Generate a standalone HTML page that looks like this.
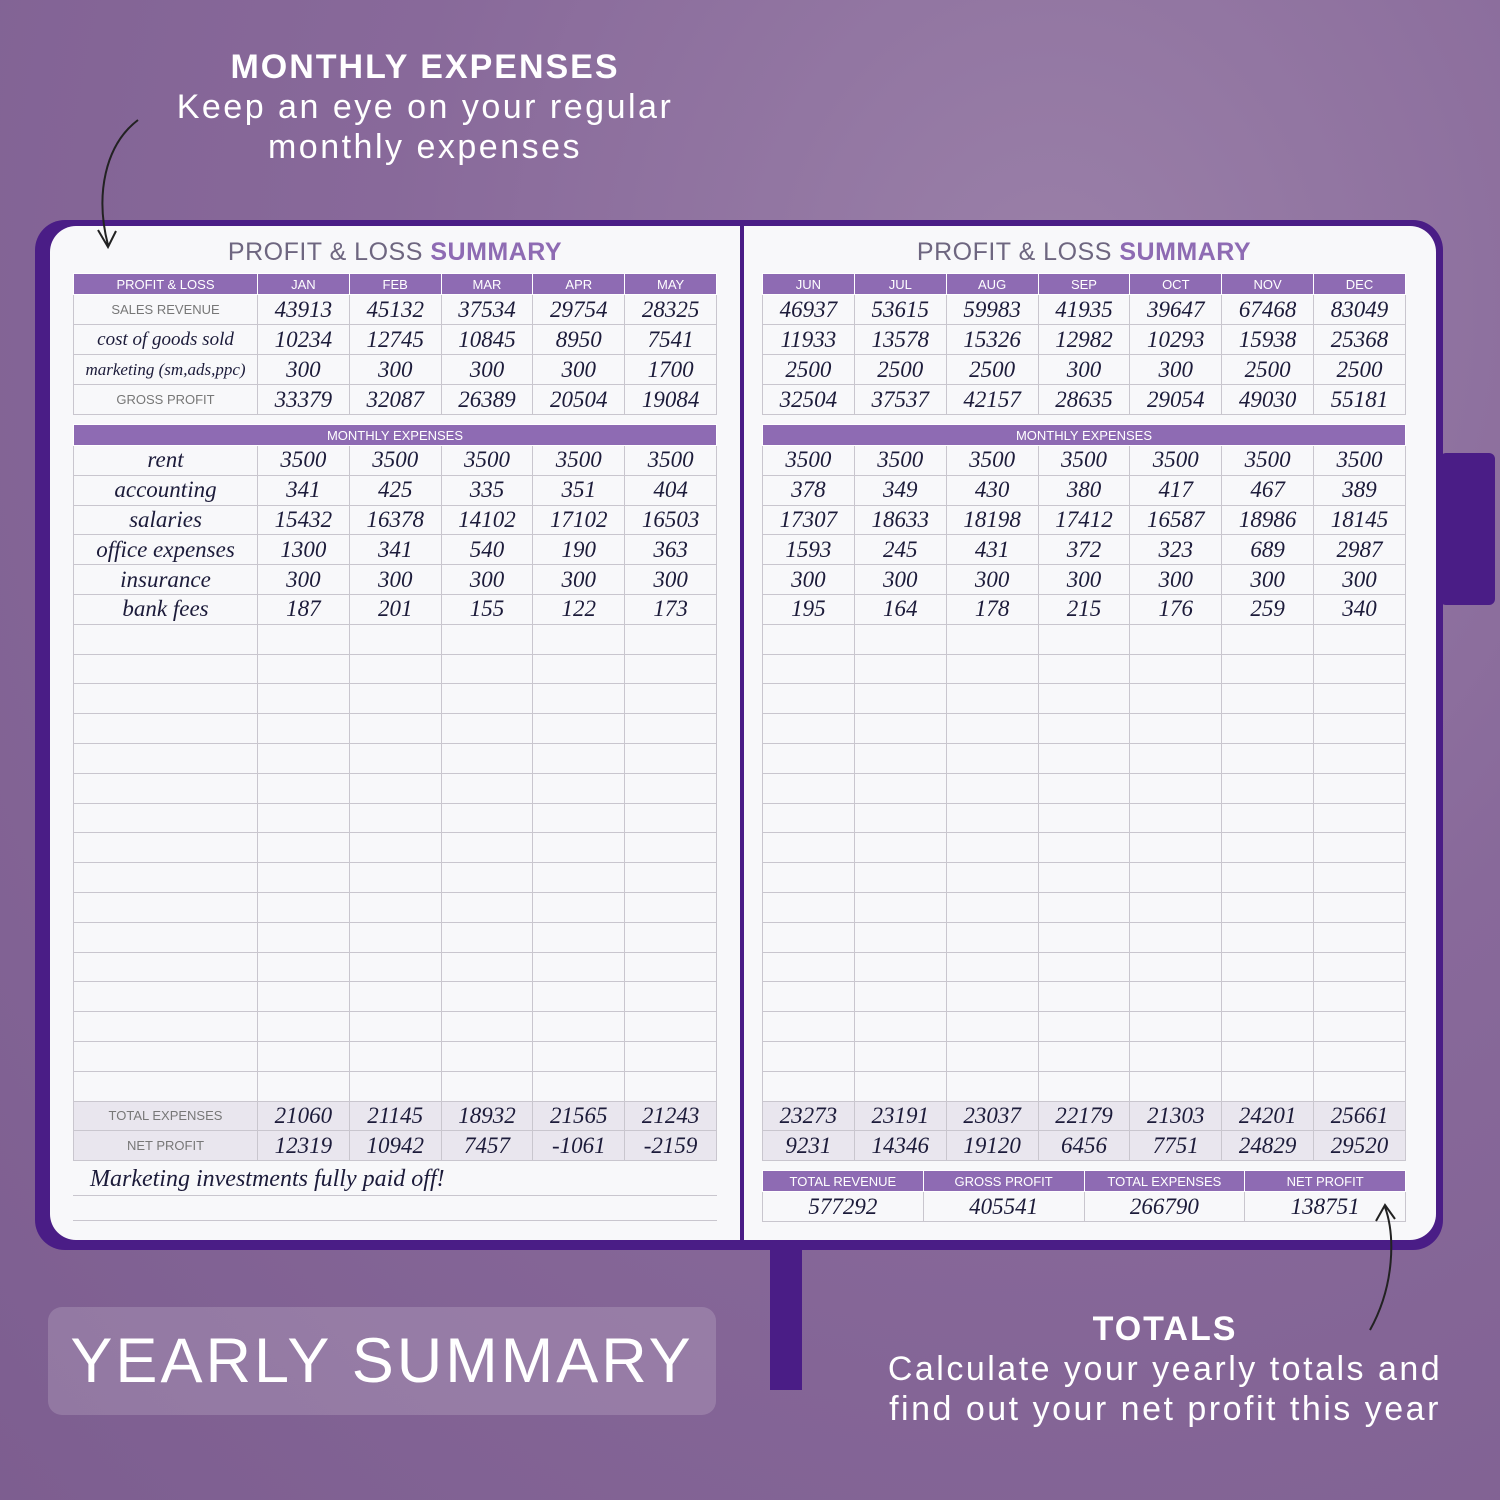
<!DOCTYPE html>
<html><head><meta charset="utf-8"><style>
*{margin:0;padding:0;box-sizing:border-box}
body{width:1500px;height:1500px;overflow:hidden;position:relative;font-family:"Liberation Sans",sans-serif;
background:radial-gradient(ellipse at 70% 20%,#9a80a8 0%,#88699a 45%,#7d5e90 100%)}
.abs{position:absolute}
.cover{left:35px;top:220px;width:1408px;height:1030px;background:#4a1d86;border-radius:30px}
.page{background:#f8f8fa;top:226px;height:1014px}
table{position:absolute;border-collapse:collapse;table-layout:fixed}
td{border:1px solid #c9c6ce;height:30px;text-align:center;font-family:"Liberation Serif",serif;font-style:italic;font-size:23px;color:#1c1b3a;padding:0;overflow:hidden;white-space:nowrap}
.ex td{height:29.8px}
td.h{background:#8e6bb3;color:#fff;font-family:"Liberation Sans",sans-serif;font-style:normal;font-size:13px;height:21px;border-color:#fff}
td.l{font-family:"Liberation Sans",sans-serif;font-style:normal;font-size:13px;color:#777}
tr.s td{background:#e9e6ee}
.title{font-size:25px;color:#6e6680;letter-spacing:.5px}
.title b{color:#8e6bb3}
</style></head><body>
<div class="abs" style="left:0;top:48px;width:850px;text-align:center;color:#fff">
<div style="font-size:34px;font-weight:bold;letter-spacing:2px">MONTHLY EXPENSES</div>
<div style="font-size:34px;letter-spacing:2.5px;line-height:40px">Keep an eye on your regular<br>monthly expenses</div></div>
<div class="abs" style="left:1440px;top:453px;width:55px;height:152px;background:#4a1d86;border-radius:6px"></div>
<div class="abs cover"></div>
<div class="abs" style="left:770px;top:1240px;width:32px;height:150px;background:#4a1d86"></div>
<div class="abs page" style="left:50px;width:690px;border-radius:26px 0 0 26px"></div>
<div class="abs page" style="left:744px;width:692px;border-radius:0 26px 26px 0"></div>
<svg class="abs" style="left:90px;top:115px" width="60" height="140"><path d="M48 5 C15 30 5 80 18 130 M8 115 L18 132 L26 116" stroke="#222" stroke-width="2" fill="none"/></svg>
<div class="abs title" style="left:73px;top:238px;width:644px;text-align:center">PROFIT &amp; LOSS <b>SUMMARY</b></div>
<div class="abs title" style="left:762px;top:238px;width:644px;text-align:center">PROFIT &amp; LOSS <b>SUMMARY</b></div>

<table style="left:73px;top:273px;width:644px">
<colgroup><col style="width:184px"><col><col><col><col><col></colgroup>
<tr><td class="h">PROFIT &amp; LOSS</td><td class="h">JAN</td><td class="h">FEB</td><td class="h">MAR</td><td class="h">APR</td><td class="h">MAY</td></tr>
<tr><td class="l">SALES REVENUE</td><td>43913</td><td>45132</td><td>37534</td><td>29754</td><td>28325</td></tr>
<tr><td style="font-size:19px">cost of goods sold</td><td>10234</td><td>12745</td><td>10845</td><td>8950</td><td>7541</td></tr>
<tr><td style="font-size:17px">marketing (sm,ads,ppc)</td><td>300</td><td>300</td><td>300</td><td>300</td><td>1700</td></tr>
<tr><td class="l">GROSS PROFIT</td><td>33379</td><td>32087</td><td>26389</td><td>20504</td><td>19084</td></tr>
</table>
<table style="left:762px;top:273px;width:644px">
<tr><td class="h">JUN</td><td class="h">JUL</td><td class="h">AUG</td><td class="h">SEP</td><td class="h">OCT</td><td class="h">NOV</td><td class="h">DEC</td></tr>
<tr><td>46937</td><td>53615</td><td>59983</td><td>41935</td><td>39647</td><td>67468</td><td>83049</td></tr>
<tr><td>11933</td><td>13578</td><td>15326</td><td>12982</td><td>10293</td><td>15938</td><td>25368</td></tr>
<tr><td>2500</td><td>2500</td><td>2500</td><td>300</td><td>300</td><td>2500</td><td>2500</td></tr>
<tr><td>32504</td><td>37537</td><td>42157</td><td>28635</td><td>29054</td><td>49030</td><td>55181</td></tr>
</table>

<table class="ex" style="left:73px;top:424px;width:644px">
<colgroup><col style="width:184px"><col><col><col><col><col></colgroup>
<tr><td class="h" colspan="6">MONTHLY EXPENSES</td></tr>
<tr><td>rent</td><td>3500</td><td>3500</td><td>3500</td><td>3500</td><td>3500</td></tr>
<tr><td>accounting</td><td>341</td><td>425</td><td>335</td><td>351</td><td>404</td></tr>
<tr><td>salaries</td><td>15432</td><td>16378</td><td>14102</td><td>17102</td><td>16503</td></tr>
<tr><td>office expenses</td><td>1300</td><td>341</td><td>540</td><td>190</td><td>363</td></tr>
<tr><td>insurance</td><td>300</td><td>300</td><td>300</td><td>300</td><td>300</td></tr>
<tr><td>bank fees</td><td>187</td><td>201</td><td>155</td><td>122</td><td>173</td></tr>
<tr><td></td><td></td><td></td><td></td><td></td><td></td></tr><tr><td></td><td></td><td></td><td></td><td></td><td></td></tr><tr><td></td><td></td><td></td><td></td><td></td><td></td></tr><tr><td></td><td></td><td></td><td></td><td></td><td></td></tr><tr><td></td><td></td><td></td><td></td><td></td><td></td></tr><tr><td></td><td></td><td></td><td></td><td></td><td></td></tr><tr><td></td><td></td><td></td><td></td><td></td><td></td></tr><tr><td></td><td></td><td></td><td></td><td></td><td></td></tr><tr><td></td><td></td><td></td><td></td><td></td><td></td></tr><tr><td></td><td></td><td></td><td></td><td></td><td></td></tr><tr><td></td><td></td><td></td><td></td><td></td><td></td></tr><tr><td></td><td></td><td></td><td></td><td></td><td></td></tr><tr><td></td><td></td><td></td><td></td><td></td><td></td></tr><tr><td></td><td></td><td></td><td></td><td></td><td></td></tr><tr><td></td><td></td><td></td><td></td><td></td><td></td></tr><tr><td></td><td></td><td></td><td></td><td></td><td></td></tr>
<tr class="s"><td class="l">TOTAL EXPENSES</td><td>21060</td><td>21145</td><td>18932</td><td>21565</td><td>21243</td></tr>
<tr class="s"><td class="l">NET PROFIT</td><td>12319</td><td>10942</td><td>7457</td><td>-1061</td><td>-2159</td></tr>
</table>
<table class="ex" style="left:762px;top:424px;width:644px">
<tr><td class="h" colspan="7">MONTHLY EXPENSES</td></tr>
<tr><td>3500</td><td>3500</td><td>3500</td><td>3500</td><td>3500</td><td>3500</td><td>3500</td></tr>
<tr><td>378</td><td>349</td><td>430</td><td>380</td><td>417</td><td>467</td><td>389</td></tr>
<tr><td>17307</td><td>18633</td><td>18198</td><td>17412</td><td>16587</td><td>18986</td><td>18145</td></tr>
<tr><td>1593</td><td>245</td><td>431</td><td>372</td><td>323</td><td>689</td><td>2987</td></tr>
<tr><td>300</td><td>300</td><td>300</td><td>300</td><td>300</td><td>300</td><td>300</td></tr>
<tr><td>195</td><td>164</td><td>178</td><td>215</td><td>176</td><td>259</td><td>340</td></tr>
<tr><td></td><td></td><td></td><td></td><td></td><td></td><td></td></tr><tr><td></td><td></td><td></td><td></td><td></td><td></td><td></td></tr><tr><td></td><td></td><td></td><td></td><td></td><td></td><td></td></tr><tr><td></td><td></td><td></td><td></td><td></td><td></td><td></td></tr><tr><td></td><td></td><td></td><td></td><td></td><td></td><td></td></tr><tr><td></td><td></td><td></td><td></td><td></td><td></td><td></td></tr><tr><td></td><td></td><td></td><td></td><td></td><td></td><td></td></tr><tr><td></td><td></td><td></td><td></td><td></td><td></td><td></td></tr><tr><td></td><td></td><td></td><td></td><td></td><td></td><td></td></tr><tr><td></td><td></td><td></td><td></td><td></td><td></td><td></td></tr><tr><td></td><td></td><td></td><td></td><td></td><td></td><td></td></tr><tr><td></td><td></td><td></td><td></td><td></td><td></td><td></td></tr><tr><td></td><td></td><td></td><td></td><td></td><td></td><td></td></tr><tr><td></td><td></td><td></td><td></td><td></td><td></td><td></td></tr><tr><td></td><td></td><td></td><td></td><td></td><td></td><td></td></tr><tr><td></td><td></td><td></td><td></td><td></td><td></td><td></td></tr>
<tr class="s"><td>23273</td><td>23191</td><td>23037</td><td>22179</td><td>21303</td><td>24201</td><td>25661</td></tr>
<tr class="s"><td>9231</td><td>14346</td><td>19120</td><td>6456</td><td>7751</td><td>24829</td><td>29520</td></tr>
</table>

<div class="abs" style="left:90px;top:1166px;font-family:'Liberation Serif',serif;font-style:italic;font-size:24px;color:#1c1b3a">Marketing investments fully paid off!</div>
<div class="abs" style="left:73px;top:1195px;width:644px;border-top:1px solid #c9c6ce"></div>
<div class="abs" style="left:73px;top:1220px;width:644px;border-top:1px solid #c9c6ce"></div>
<table style="left:762px;top:1170px;width:644px">
<tr><td class="h">TOTAL REVENUE</td><td class="h">GROSS PROFIT</td><td class="h">TOTAL EXPENSES</td><td class="h">NET PROFIT</td></tr>
<tr><td>577292</td><td>405541</td><td>266790</td><td>138751</td></tr>
</table>
<svg class="abs" style="left:1340px;top:1195px" width="70" height="140"><path d="M30 135 C55 90 55 40 45 12 M36 26 L45 10 L55 24" stroke="#222" stroke-width="2" fill="none"/></svg>

<div class="abs" style="left:48px;top:1307px;width:668px;height:108px;background:rgba(255,255,255,.16);border-radius:14px;color:#fff;font-size:63px;letter-spacing:3px;line-height:108px;text-align:center">YEARLY SUMMARY</div>
<div class="abs" style="left:860px;top:1310px;width:610px;text-align:center;color:#fff">
<div style="font-size:34px;font-weight:bold;letter-spacing:2px">TOTALS</div>
<div style="font-size:34px;letter-spacing:2.5px;line-height:40px;margin-left:-30px;margin-right:-30px">Calculate your yearly totals and<br>find out your net profit this year</div></div>
</body></html>
